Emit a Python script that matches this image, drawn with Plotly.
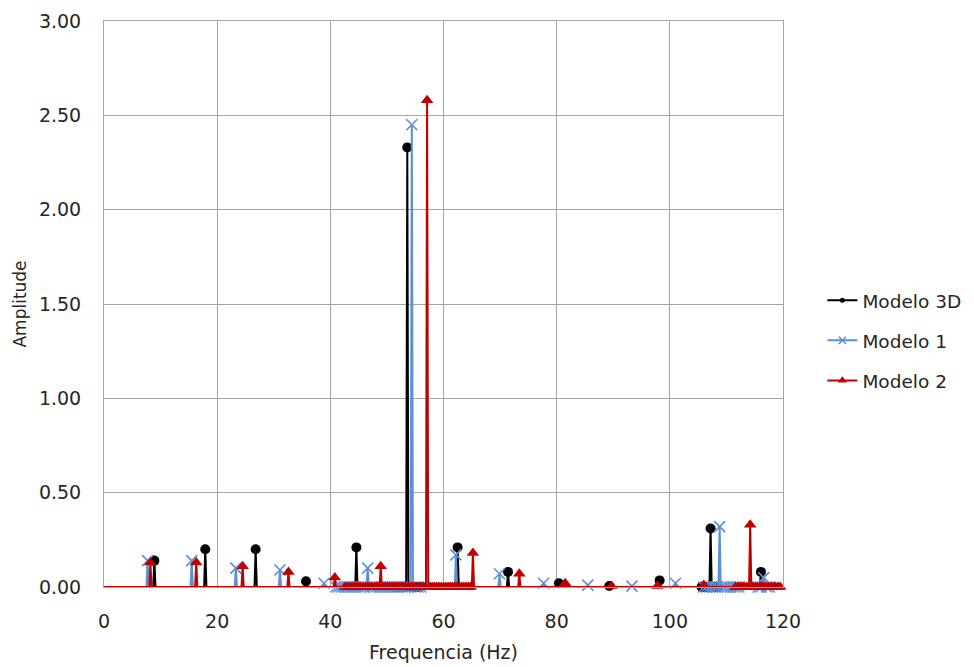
import plotly.graph_objects as go

# Harmonic peaks of each model: frequency (Hz) and amplitude
freq_3d = [8.9, 17.9, 26.8, 35.7, 44.6, 53.6, 62.5, 71.4, 80.4, 89.3, 98.2, 107.2, 116.1]
amp_3d = [0.14, 0.20, 0.20, 0.03, 0.21, 2.33, 0.21, 0.08, 0.02, 0.005, 0.035, 0.31, 0.08]

freq_m1 = [7.7, 15.5, 23.3, 31.1, 38.9, 46.6, 54.4, 62.2, 69.9, 77.7, 85.5, 93.3, 101.0, 108.8, 116.6]
amp_m1 = [0.14, 0.14, 0.10, 0.09, 0.02, 0.10, 2.45, 0.17, 0.07, 0.02, 0.01, 0.005, 0.02, 0.32, 0.05]

freq_m2 = [8.2, 16.3, 24.5, 32.6, 40.8, 48.9, 57.1, 65.2, 73.4, 81.5, 89.7, 97.8, 106.0, 114.2]
amp_m2 = [0.13, 0.13, 0.11, 0.08, 0.05, 0.11, 2.58, 0.18, 0.07, 0.02, 0.005, 0.005, 0.01, 0.33]

# Finely sampled stretches of the spectrum where the amplitude stays near zero
base_3d = [51.5, 52.0, 52.5, 53.0, 54.2, 54.7, 55.2, 55.7,
           105.6, 106.0, 106.4, 106.8, 107.6, 108.0, 108.4]
base_m1 = [41.0, 41.5, 42.0, 42.5, 43.0, 43.5, 44.0, 44.5, 45.0, 45.5, 46.0,
           47.2, 47.7, 48.2, 48.7, 49.2, 49.7, 50.2, 50.7, 51.2, 51.7, 52.2,
           52.7, 53.2, 53.7, 55.0, 55.5, 56.0,
           106.0, 106.5, 107.0, 107.5, 108.0, 108.4, 109.2, 109.7, 110.2,
           110.7, 111.2, 111.7, 112.2, 115.6, 116.1, 117.1, 117.6]
base_m2 = [42.6, 43.0, 43.4, 43.8, 44.2, 44.6, 45.0, 45.4, 45.8, 46.2, 46.6,
           47.0, 47.4, 47.8, 48.2, 48.6, 49.3, 49.7, 50.1, 50.5, 50.9, 51.3,
           51.7, 52.1, 52.5, 52.9, 53.3, 53.7, 54.1, 54.5, 54.9, 55.3, 55.7,
           56.1, 56.5, 57.6, 58.0, 58.4, 58.8, 59.2, 59.6, 60.0, 60.4, 60.8,
           61.2, 61.6, 62.0, 62.4, 62.8, 63.2, 63.6, 64.0, 64.4, 64.8,
           111.6, 112.0, 112.4, 112.8, 113.2, 113.6, 114.7, 115.1, 115.5,
           115.9, 116.3, 116.7, 117.1, 117.5, 117.9, 118.3, 118.7, 119.1, 119.5]

x_ticks = [0, 20, 40, 60, 80, 100, 120]
y_ticks = [0.0, 0.5, 1.0, 1.5, 2.0, 2.5, 3.0]

SPIKE_HALF_WIDTH = 0.2


def spectrum(freqs, amps, base, marker_size):
    """Merge peaks, their zero feet and the zero stretches into one sorted line."""
    pts = [(0.0, 0.0, 0), (119.6, 0.0, 0)]
    for f, a in zip(freqs, amps):
        pts.append((f, a, marker_size))
        pts.append((f - SPIKE_HALF_WIDTH, 0.0, 0))
        pts.append((f + SPIKE_HALF_WIDTH, 0.0, 0))
    for f in base:
        pts.append((f, 0.0, marker_size))
    pts.sort(key=lambda p: p[0])
    return [p[0] for p in pts], [p[1] for p in pts], [p[2] for p in pts]


series = [
    ("Modelo 3D", freq_3d, amp_3d, base_3d, "#000000", "circle", 10),
    ("Modelo 1", freq_m1, amp_m1, base_m1, "#5B8FD8", "x-thin", 11),
    ("Modelo 2", freq_m2, amp_m2, base_m2, "#C00000", "triangle-up", 11),
]

fig = go.Figure()
for name, fr, am, bs, color, symbol, msize in series:
    xs, ys, sizes = spectrum(fr, am, bs, msize)
    if symbol == "x-thin":
        marker_line = dict(color=color, width=1.6)
    else:
        marker_line = dict(width=0)
    fig.add_trace(go.Scatter(
        x=xs, y=ys, name=name, legendgroup=name, mode="lines+markers",
        line=dict(color=color, width=2),
        marker=dict(symbol=symbol, size=sizes, color=color, opacity=1,
                    line=marker_line),
        cliponaxis=False,
    ))

font_family = "'DejaVu Sans', sans-serif"
grid_color = "#A6A6A6"
text_color = "#262626"

fig.update_layout(
    width=974, height=667,
    margin=dict(l=104, r=191, t=21, b=80, autoexpand=False),
    paper_bgcolor="white", plot_bgcolor="white",
    font=dict(family=font_family, size=19, color=text_color),
    showlegend=True,
    legend=dict(
        x=1.058, y=0.435, xanchor="left", yanchor="middle",
        font=dict(size=18.5, color=text_color),
        itemwidth=30, tracegroupgap=13,
        bgcolor="rgba(0,0,0,0)",
    ),
    xaxis=dict(
        range=[0, 120], tickvals=x_ticks,
        ticktext=[str(v) for v in x_ticks],
        showgrid=True, gridcolor=grid_color, gridwidth=1,
        showline=True, linecolor=grid_color, linewidth=1, mirror=True,
        zeroline=False, ticks="", ticklen=0, ticklabelstandoff=17,
        tickfont=dict(size=19), automargin=False,
        title=dict(text="Frequencia (Hz)", font=dict(size=19), standoff=14),
    ),
    yaxis=dict(
        range=[0, 3.0], tickvals=y_ticks,
        ticktext=[f"{v:.2f}" for v in y_ticks],
        showgrid=True, gridcolor=grid_color, gridwidth=1,
        showline=True, linecolor=grid_color, linewidth=1, mirror=True,
        zeroline=False, ticks="", ticklen=0, ticklabelstandoff=18,
        tickfont=dict(size=19), automargin=False,
        title=dict(text="Amplitude", font=dict(size=17), standoff=7),
    ),
)

fig.write_html("out.html")
